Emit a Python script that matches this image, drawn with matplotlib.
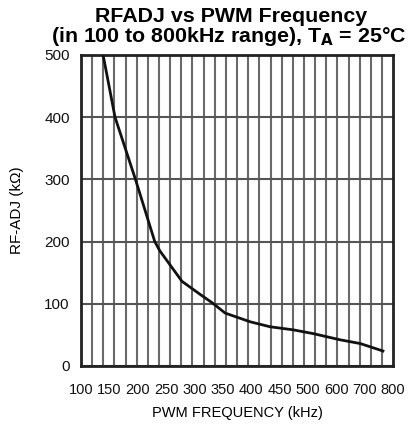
import numpy as np
import matplotlib
matplotlib.use("Agg")
import matplotlib.pyplot as plt
from matplotlib.ticker import FixedLocator, NullFormatter

# Tick labels (kHz) on the non-uniform x axis
freq_ticks = [100, 150, 200, 250, 300, 350, 400, 450, 500, 600, 700, 800]
y_ticks = [0, 100, 200, 300, 400, 500]

# Curve
freq_khz = [139, 160, 196, 230, 239, 278, 310, 332, 354, 398, 433, 474, 518, 613, 684, 764]
rfadj_kohm = [500, 400, 300, 200, 185, 136, 115, 101, 85, 71, 63, 58, 52, 42, 36, 24]

plt.rcParams['font.family'] = ['Liberation Sans', 'DejaVu Sans']

idx = np.arange(len(freq_ticks), dtype=float)
fticks = np.array(freq_ticks, dtype=float)

def fwd(x):
    return np.interp(x, fticks, idx)

def inv(p):
    return np.interp(p, idx, fticks)

fig = plt.figure(figsize=(4.13, 4.29), dpi=100)
ax = fig.add_axes([0.196, 0.147, 0.756, 0.725])
ax.set_xscale('function', functions=(fwd, inv))
ax.set_xlim(freq_ticks[0], freq_ticks[-1])
ax.set_ylim(0, 500)

ax.set_xticks(freq_ticks)
ax.set_xticklabels([str(f) for f in freq_ticks])
ax.set_yticks(y_ticks)

# minor vertical grid: 28 equal divisions of the axis
minor_pos = np.arange(1, 28) * (len(freq_ticks) - 1) / 28.0
ax.xaxis.set_minor_locator(FixedLocator(inv(minor_pos)))
ax.xaxis.set_minor_formatter(NullFormatter())
ax.grid(False)
ax.grid(True, which='minor', axis='x', color='#6a6a6a', linewidth=1.5)
ax.grid(True, which='major', axis='y', color='#555555', linewidth=1.5)
ax.set_axisbelow(True)

ax.plot(freq_khz, rfadj_kohm, color='#111111', linewidth=2.0, zorder=3)

for s in ax.spines.values():
    s.set_linewidth(2.0)
    s.set_color('#222222')

ax.tick_params(axis='both', which='both', length=0, colors='#111111')
ax.tick_params(axis='x', labelsize=10.5, pad=12)
ax.tick_params(axis='y', labelsize=11, pad=8)

ax.set_xlabel('PWM FREQUENCY (kHz)', fontsize=10.5, labelpad=7)
ax.set_ylabel('RF-ADJ (k\u03a9)', fontsize=11, labelpad=15)

fig.text(0.56, 0.949, 'RFADJ vs PWM Frequency', ha='center', va='baseline',
         fontsize=15.4, fontweight='bold')
fig.text(0.555, 0.903, '(in 100 to 800kHz range), T$_\\mathbf{A}$ = 25\u00b0C', ha='center', va='baseline',
         fontsize=15.4, fontweight='bold')

fig.savefig('out.png', dpi=100)
